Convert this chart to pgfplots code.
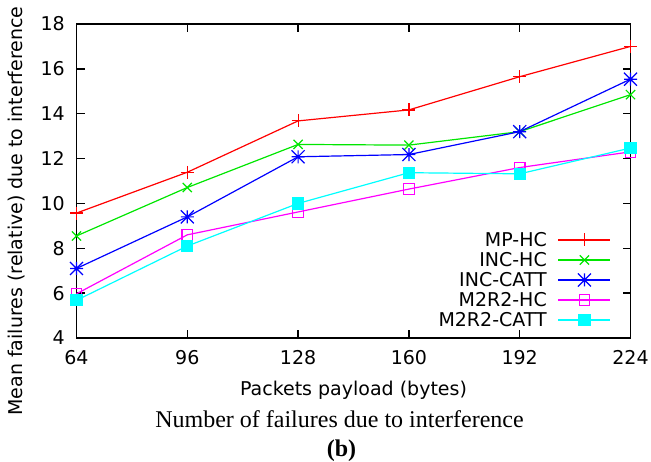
\documentclass[border=0pt]{standalone}
\usepackage{fontspec}
\setmainfont{Liberation Serif}
\setsansfont{DejaVu Sans}
\usepackage{pgfplots}
\pgfplotsset{compat=1.18}
\definecolor{gpred}{RGB}{255,0,0}
\definecolor{gpgreen}{RGB}{0,230,0}
\definecolor{gpblue}{RGB}{0,0,255}
\definecolor{gpmag}{RGB}{255,0,255}
\definecolor{gpcyan}{RGB}{0,255,255}
\pgfdeclareplotmark{gpstar}{%
 \pgfpathmoveto{\pgfqpoint{-\pgfplotmarksize}{0pt}}\pgfpathlineto{\pgfqpoint{\pgfplotmarksize}{0pt}}%
 \pgfpathmoveto{\pgfqpoint{0pt}{-\pgfplotmarksize}}\pgfpathlineto{\pgfqpoint{0pt}{\pgfplotmarksize}}%
 \pgfpathmoveto{\pgfqpoint{-\pgfplotmarksize}{-\pgfplotmarksize}}\pgfpathlineto{\pgfqpoint{\pgfplotmarksize}{\pgfplotmarksize}}%
 \pgfpathmoveto{\pgfqpoint{-\pgfplotmarksize}{\pgfplotmarksize}}\pgfpathlineto{\pgfqpoint{\pgfplotmarksize}{-\pgfplotmarksize}}%
 \pgfusepathqstroke}
\newcommand{\gpfont}{\sffamily\fontsize{19}{22}\selectfont}
\begin{document}
\begin{tikzpicture}[x=1pt,y=1pt]
\useasboundingbox (0,0) rectangle (651,461);
\begin{axis}[
  at={(76.5pt,123pt)}, anchor=south west,
  width=554pt, height=314pt, scale only axis,
  xmin=64, xmax=224, ymin=4, ymax=18,
  xtick={64,96,128,160,192,224},
  ytick={4,6,8,10,12,14,16,18},
  tick align=inside, major tick length=8pt,
  axis line style={line width=1.5pt},
  every tick/.style={black,line width=1.5pt},
  /pgf/number format/assume math mode=true,
  ticklabel style={font=\gpfont},
  xticklabel style={inner sep=0pt, anchor=base, yshift=-27pt},
  yticklabel style={inner sep=0pt, anchor=east, xshift=-11.5pt},
  clip=false,
  every axis plot/.append style={line width=1.2pt},
  every mark/.append style={solid},
  legend cell align=right,
  legend plot pos=right,
  legend image code/.code={\draw[mark repeat=2,mark phase=2] plot coordinates {(0pt,0pt) (26pt,0pt) (52pt,0pt)};},
  legend style={draw=none, fill=none, at={(1,0)}, anchor=south east,
    xshift=-19.5pt, yshift=8pt, inner sep=0pt, outer sep=0pt,
    font=\gpfont, row sep=0pt,
    nodes={inner sep=0pt, text height=17pt, text depth=3pt},
    /tikz/every odd column/.append style={column sep=11pt}},
]
\addplot[gpred, mark=+, mark size=6.5pt] coordinates {(64,9.57) (96,11.39) (128,13.68) (160,14.17) (192,15.65) (224,17.0)};
\addlegendentry{MP-HC}
\addplot[gpgreen, mark=x, mark size=6.5pt] coordinates {(64,8.55) (96,10.71) (128,12.63) (160,12.6) (192,13.2) (224,14.85)};
\addlegendentry{INC-HC}
\addplot[gpblue, mark=gpstar, mark size=6.5pt] coordinates {(64,7.1) (96,9.4) (128,12.08) (160,12.18) (192,13.2) (224,15.54)};
\addlegendentry{INC-CATT}
\addplot[gpmag, mark=square, mark size=5.3pt] coordinates {(64,5.97) (96,8.6) (128,9.62) (160,10.64) (192,11.6) (224,12.3)};
\addlegendentry{M2R2-HC}
\addplot[gpcyan, mark=square*, mark size=5.5pt, mark options={fill=gpcyan}] coordinates {(64,5.68) (96,8.1) (128,10.0) (160,11.37) (192,11.32) (224,12.47)};
\addlegendentry{M2R2-CATT}
\end{axis}
\node[font=\gpfont, anchor=base] at (353.5,66) {Packets payload (bytes)};
\node[font=\gpfont, rotate=90, anchor=center] at (17,250) {Mean failures (relative) due to interference};
\node[font=\fontsize{24}{28}\selectfont, anchor=base] at (339.5,34) {Number of failures due to interference};
\node[font=\fontsize{24}{28}\selectfont\bfseries, anchor=base] at (341.5,4.5) {(b)};
\node[font=\fontsize{24}{28}\selectfont\bfseries, anchor=base] at (340,466) {(a)};
\end{tikzpicture}
\end{document}
